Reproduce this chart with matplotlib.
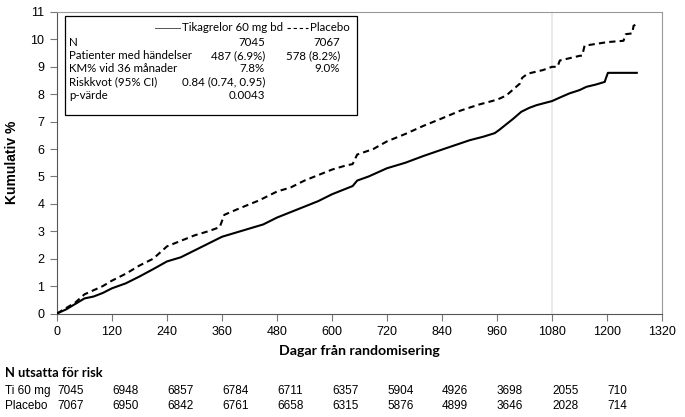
import numpy as np
import matplotlib.pyplot as plt

# KM-kurvor (dag, kumulativ %)
tica_days = [0, 20, 40, 60, 80, 100, 120, 150, 180, 210, 240, 270, 300, 330, 360,
             390, 420, 450, 480, 510, 540, 570, 600, 630, 645, 655, 680, 720, 760, 800,
             840, 870, 900, 930, 955, 965, 980, 995, 1013, 1030, 1046, 1080, 1100, 1118,
             1140, 1155, 1175, 1195, 1198, 1202, 1265]
tica_pct = [0, 0.15, 0.35, 0.55, 0.62, 0.75, 0.92, 1.1, 1.35, 1.62, 1.9, 2.05, 2.3, 2.55, 2.8,
            2.95, 3.1, 3.25, 3.5, 3.7, 3.9, 4.1, 4.35, 4.55, 4.65, 4.85, 5.0, 5.3, 5.5, 5.75,
            5.98, 6.15, 6.32, 6.45, 6.58, 6.7, 6.9, 7.1, 7.36, 7.5, 7.6, 7.75, 7.9, 8.03,
            8.15, 8.27, 8.35, 8.45, 8.6, 8.78, 8.78]

plac_days = [0, 20, 40, 60, 80, 100, 120, 150, 180, 210, 240, 270, 300, 330, 355, 365,
             400, 440, 480, 510, 540, 570, 600, 630, 645, 655, 690, 720, 760, 800, 840, 880,
             920, 960, 980, 1010, 1015, 1027, 1060, 1080, 1092, 1097, 1140, 1146, 1151, 1200,
             1236, 1241, 1255, 1258, 1265]
plac_pct = [0, 0.2, 0.4, 0.7, 0.85, 1.0, 1.2, 1.45, 1.75, 2.0, 2.45, 2.65, 2.85, 3.0, 3.15, 3.6,
            3.85, 4.12, 4.45, 4.6, 4.85, 5.05, 5.25, 5.4, 5.45, 5.8, 6.0, 6.28, 6.55, 6.85, 7.12, 7.4,
            7.62, 7.8, 7.95, 8.39, 8.6, 8.75, 8.88, 9.0, 9.0, 9.23, 9.4, 9.41, 9.77, 9.9,
            9.95, 10.19, 10.22, 10.5, 10.55]

risk_days = [0, 120, 240, 360, 480, 600, 720, 840, 960, 1080, 1200]
risk_tica = [7045, 6948, 6857, 6784, 6711, 6357, 5904, 4926, 3698, 2055, 710]
risk_plac = [7067, 6950, 6842, 6761, 6658, 6315, 5876, 4899, 3646, 2028, 714]

box_rows = ['N', 'Patienter med händelser', 'KM% vid 36 månader', 'Riskkvot (95% CI)', 'p-värde']
box_tica = ['7045', '487 (6.9%)', '7.8%', '0.84 (0.74, 0.95)', '0.0043']
box_plac = ['7067', '578 (8.2%)', '9.0%', '', '']

W, H = 685, 417
fig = plt.figure(figsize=(W / 100, H / 100), dpi=100)
ax = fig.add_axes([57 / W, 1 - 313.5 / H, 605 / W, 301.5 / H])

ax.axvline(1080, color='#eaeaea', lw=1.5, zorder=1)
ax.plot(tica_days, tica_pct, color='black', lw=1.5, zorder=3)
ax.plot(plac_days, plac_pct, color='black', lw=1.5, dashes=(3, 2), zorder=3)

ax.set_xlim(0, 1320)
ax.set_ylim(0, 11)
ax.set_xticks(np.arange(0, 1321, 120))
ax.set_yticks(np.arange(0, 12, 1))
for s in ax.spines.values():
    s.set_color('#999999')
ax.spines['left'].set_color('#555555')
ax.spines['bottom'].set_color('#555555')
ax.tick_params(direction='out', length=5, color='#777777', labelsize=9, pad=4)
for lab in ax.get_xticklabels() + ax.get_yticklabels():
    lab.set_family('Liberation Sans')

ax.set_xlabel('Dagar från randomisering', family='Lato', fontweight='bold', fontsize=10.2, labelpad=5)
ax.set_ylabel('Kumulativ %', family='Liberation Sans', fontweight='bold', fontsize=10, labelpad=8)

# informationsruta
fig.patches.append(plt.Rectangle((65 / W, 1 - 115 / H), 292 / W, 99 / H, transform=fig.transFigure,
                                 fill=False, edgecolor='black', lw=0.9))
fs = 8.3
fam = 'Lato'
fig.add_artist(plt.Line2D([155 / W, 180 / W], [1 - 27.5 / H, 1 - 27.5 / H], color='#555555', lw=0.7))
fig.text(182 / W, 1 - 27.5 / H, 'Tikagrelor 60 mg bd', family=fam, fontsize=fs, va='center')
fig.add_artist(plt.Line2D([287 / W, 308 / W], [1 - 27.5 / H, 1 - 27.5 / H], color='black', lw=0.8,
                          dashes=(3, 2.5)))
fig.text(310 / W, 1 - 27.5 / H, 'Placebo', family=fam, fontsize=fs, va='center')
for i, (r, a, b) in enumerate(zip(box_rows, box_tica, box_plac)):
    y = 1 - (42.5 + i * 13.2) / H
    fig.text(69 / W, y, r, family=fam, fontsize=fs, va='center')
    fig.text(265 / W, y, a, family=fam, fontsize=fs, va='center', ha='right')
    if b:
        fig.text(340 / W, y, b, family=fam, fontsize=fs, va='center', ha='right')

# risktabell
fig.text(5 / W, 1 - 373 / H, 'N utsatta för risk', family='Lato', fontweight='bold', fontsize=9.3, va='center')
fig.text(5 / W, 1 - 391 / H, 'Ti 60 mg', family='Liberation Sans', fontsize=8.5, va='center')
fig.text(5 / W, 1 - 406 / H, 'Placebo', family='Liberation Sans', fontsize=8.5, va='center')
trans = ax.get_xaxis_transform()
for d, a, b in zip(risk_days, risk_tica, risk_plac):
    ax.text(d, (313.5 - 391) / 301.5, str(a), transform=trans, family='Liberation Sans', fontsize=8.5,
            va='center', ha='left', clip_on=False)
    ax.text(d, (313.5 - 406) / 301.5, str(b), transform=trans, family='Liberation Sans', fontsize=8.5,
            va='center', ha='left', clip_on=False)

fig.savefig('out.png', dpi=100)
